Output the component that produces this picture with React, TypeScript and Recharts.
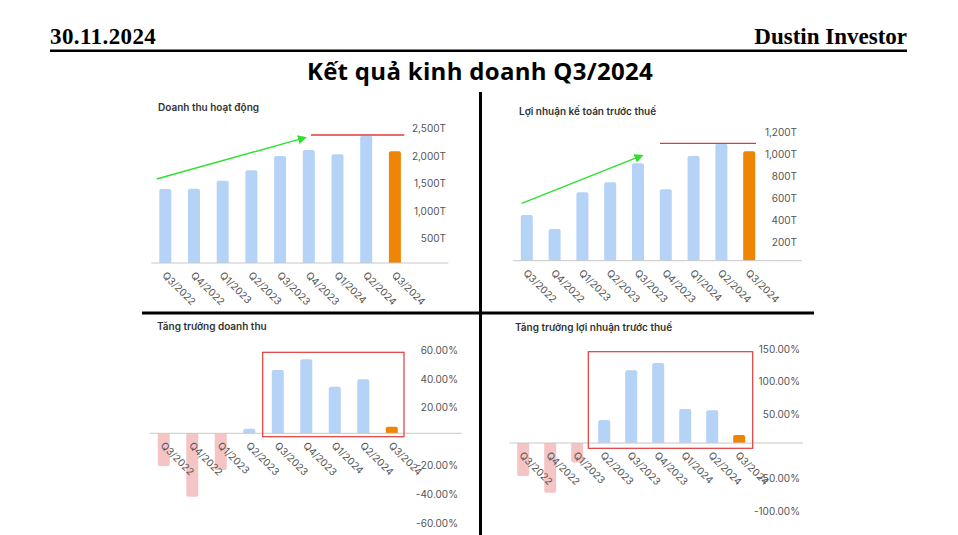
import * as React from 'react';
import { Bar, BarChart, Cell, ReferenceLine, XAxis, YAxis } from 'recharts';

const QUARTERS = ['Q3/2022', 'Q4/2022', 'Q1/2023', 'Q2/2023', 'Q3/2023', 'Q4/2023', 'Q1/2024', 'Q2/2024', 'Q3/2024'];

// Doanh thu hoạt động (tỷ đồng)
const REVENUE = [1340, 1345, 1490, 1680, 1940, 2045, 1970, 2305, 2025];
// Lợi nhuận kế toán trước thuế (tỷ đồng)
const PROFIT = [417, 289, 625, 716, 889, 652, 956, 1068, 999];
// Tăng trưởng YoY (%)
const REVENUE_GROWTH = [-22.6, -43.9, -25.4, 3.2, 43.8, 51.2, 32.3, 37.4, 4.6];
const PROFIT_GROWTH = [-51, -77, -30, 35.6, 112.5, 124, 52.6, 50.6, 12.4];

const REVENUE_TICKS = [500, 1000, 1500, 2000, 2500];
const PROFIT_TICKS = [200, 400, 600, 800, 1000, 1200];
const REVENUE_GROWTH_TICKS = [-60, -40, -20, 20, 40, 60];
const PROFIT_GROWTH_TICKS = [-100, -50, 50, 100, 150];

const BLUE = '#b5d3f7';
const ORANGE = '#ee8505';
const PINK = '#f5c5c5';
const FONT = 'Inter, "Noto Sans", sans-serif';

const fmtT = (v: number) => `${v.toLocaleString('en-US')}T`;
const fmtPct = (v: number) => `${v.toFixed(2)}%`;

interface PanelProps {
    left: number;
    top: number;
    width: number;
    height: number;
    margin: { top: number; right: number; bottom: number; left: number };
    xAxisHeight: number;
    values: number[];
    domain: [number, number];
    ticks: number[];
    fmt: (v: number) => string;
    padRight: number;
    labelX: number;
}

function Panel({ left, top, width, height, margin, xAxisHeight, values, domain, ticks, fmt, padRight, labelX }: PanelProps) {
    const data = QUARTERS.map((q, i) => ({ q, v: values[i] }));
    const plotH = height - margin.top - margin.bottom - xAxisHeight;
    const zeroY = margin.top + (plotH * domain[1]) / (domain[1] - domain[0]);

    return (
        <div style={{ position: 'absolute', left, top }}>
            <BarChart width={width} height={height} data={data} margin={margin}>
                <XAxis
                    dataKey="q"
                    height={xAxisHeight}
                    axisLine={false}
                    tickLine={false}
                    interval={0}
                    padding={{ left: 0, right: padRight }}
                    tick={(p: any) => {
                        const x = p.x - 4;
                        const y = zeroY + 13;
                        return (
                            <text
                                x={x}
                                y={y}
                                transform={`rotate(45 ${x} ${y})`}
                                textAnchor="start"
                                fontSize={10}
                                fontFamily={FONT}
                                fill="#555"
                            >
                                {p.payload.value}
                            </text>
                        );
                    }}
                />
                <YAxis
                    orientation="right"
                    mirror
                    domain={domain}
                    ticks={ticks}
                    allowDataOverflow
                    axisLine={false}
                    tickLine={false}
                    interval={0}
                    tick={(p: any) => (
                        <text x={labelX} y={p.y + 7} textAnchor="end" fontSize={10} fontFamily={FONT} fill="#555">
                            {fmt(p.payload.value)}
                        </text>
                    )}
                />
                <ReferenceLine y={0} stroke="#c8c8c8" />
                <Bar dataKey="v" barSize={12} radius={[2, 2, 0, 0]} isAnimationActive={false}>
                    {data.map((d, i) => (
                        <Cell key={i} fill={i === data.length - 1 ? ORANGE : d.v < 0 ? PINK : BLUE} />
                    ))}
                </Bar>
            </BarChart>
        </div>
    );
}

export default function App() {
    return (
        <div
            style={{
                position: 'absolute',
                left: 0,
                top: 0,
                width: 958,
                height: 535,
                overflow: 'hidden',
                background: '#fff',
            }}
        >
            <Panel
                left={140}
                top={90}
                width={320}
                height={220}
                margin={{ top: 35, right: 11.7, bottom: 7, left: 11.3 }}
                xAxisHeight={40}
                values={REVENUE}
                domain={[0, 2500]}
                ticks={REVENUE_TICKS}
                fmt={fmtT}
                padRight={38.7}
                labelX={306}
            />
            <Panel
                left={483}
                top={90}
                width={330}
                height={220}
                margin={{ top: 39.3, right: 11, bottom: 9.3, left: 29.8 }}
                xAxisHeight={40}
                values={PROFIT}
                domain={[0, 1200]}
                ticks={PROFIT_TICKS}
                fmt={fmtT}
                padRight={39}
                labelX={314}
            />
            <Panel
                left={138}
                top={320}
                width={330}
                height={215}
                margin={{ top: 26.6, right: 6.3, bottom: 14, left: 11.75 }}
                xAxisHeight={1}
                values={REVENUE_GROWTH}
                domain={[-60, 60]}
                ticks={REVENUE_GROWTH_TICKS}
                fmt={fmtPct}
                padRight={55.4}
                labelX={320}
            />
            <Panel
                left={483}
                top={320}
                width={330}
                height={215}
                margin={{ top: 26.1, right: 10, bottom: 26.4, left: 26.2 }}
                xAxisHeight={1}
                values={PROFIT_GROWTH}
                domain={[-100, 150]}
                ticks={PROFIT_GROWTH_TICKS}
                fmt={fmtPct}
                padRight={50.8}
                labelX={317}
            />

            {/* slide header, dividers and hand-drawn annotations */}
            <svg
                width={958}
                height={535}
                style={{ position: 'absolute', left: 0, top: 0, pointerEvents: 'none' }}
            >
                <defs>
                    <marker id="greenHead" markerWidth="9" markerHeight="9" refX="7" refY="4.5" orient="auto" markerUnits="userSpaceOnUse">
                        <path d="M0,0 L9,4.5 L0,9 z" fill="#2fe02f" />
                    </marker>
                </defs>
                <text x={50} y={44} fontFamily='"Liberation Serif", serif' fontWeight="bold" fontSize={23} fill="#000" letterSpacing={0.4}>
                    30.11.2024
                </text>
                <text x={907} y={44} textAnchor="end" fontFamily='"Liberation Serif", serif' fontWeight="bold" fontSize={23} fill="#000">
                    Dustin Investor
                </text>
                <rect x={50} y={49.5} width={857} height={2.5} fill="#000" />
                <text x={480} y={80} textAnchor="middle" fontFamily='"Open Sans", sans-serif' fontWeight="bold" fontSize={24} letterSpacing={0.3} fill="#000">
                    Kết quả kinh doanh Q3/2024
                </text>

                <rect x={479} y={92} width={3} height={443} fill="#000" />
                <rect x={142} y={311.5} width={672} height={3} fill="#000" />

                <g fontFamily={FONT} fontSize={10} fontWeight={600} fill="#333">
                    <text x={158} y={111}>Doanh thu hoạt động</text>
                    <text x={519} y={115}>Lợi nhuận kế toán trước thuế</text>
                    <text x={157} y={330}>Tăng trưởng doanh thu</text>
                    <text x={515} y={331}>Tăng trưởng lợi nhuận trước thuế</text>
                </g>

                <line x1={156.7} y1={179} x2={305} y2={137.7} stroke="#2fe02f" strokeWidth={1.4} markerEnd="url(#greenHead)" />
                <line x1={311} y1={135} x2={404.3} y2={135} stroke="#e23a3a" strokeWidth={1.3} />
                <line x1={521.7} y1={203.3} x2={641.7} y2={155.7} stroke="#2fe02f" strokeWidth={1.4} markerEnd="url(#greenHead)" />
                <line x1={660} y1={143.3} x2={756} y2={143.3} stroke="#e23a3a" strokeWidth={1.3} />

                <rect x={262.7} y={352.3} width={141.3} height={84.4} fill="none" stroke="#e23a3a" strokeWidth={1.2} />
                <rect x={588.3} y={351.7} width={164.4} height={96.6} fill="none" stroke="#e23a3a" strokeWidth={1.2} />
            </svg>
        </div>
    );
}
